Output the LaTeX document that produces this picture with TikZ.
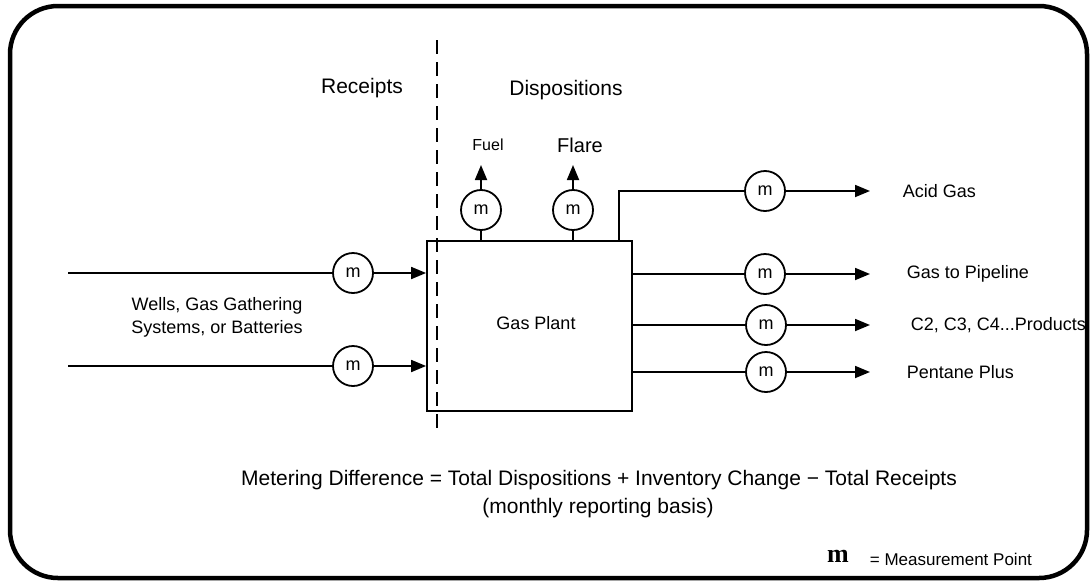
\documentclass[tikz,border=0pt]{standalone}
\usepackage{fontspec}
\setmainfont{Liberation Sans}
\newfontfamily\legendserif{Liberation Serif}
\usetikzlibrary{arrows.meta,calc}
\begin{document}
\begin{tikzpicture}[x=1pt,y=-1pt,
  line width=1.8pt,
  meter/.style={circle,draw,minimum size=40pt,inner sep=0pt,font=\fontsize{18}{20}\selectfont},
  arr/.style={-{Triangle[length=15pt,width=12pt]}},
  lbl/.style={inner sep=0pt,font=\fontsize{18}{20}\selectfont},
  big/.style={inner sep=0pt,font=\fontsize{21}{24}\selectfont},
  plantbox/.style={draw,minimum width=205pt,minimum height=170pt,inner sep=0pt}]
\useasboundingbox (0,0) rectangle (1091,581);
% outer frame
\draw[line width=4.5pt,rounded corners=48pt] (10,6) rectangle (1087,578);
% headings
\node[big] (rec) at (362,88) {Receipts};
\node[big] (disp) at (566,90) {Dispositions};
% dashed divider
\coordinate (dtop) at (437,40);
\coordinate (dbot) at (437,432);
\draw[line width=2.5pt,dash pattern=on 14pt off 8pt] (dtop) -- (dbot);
% plant
\node[plantbox] (plant) at (529.5,326) {};
\node[lbl] (plantlbl) at (536,323) {Gas Plant};
% receipts
\coordinate (in1) at (68,273);
\coordinate (in2) at (68,366);
\node[meter] (mr1) at (353,273) {m};
\node[meter] (mr2) at (353,366) {m};
\draw (in1) -- (mr1);
\draw (in2) -- (mr2);
\draw[arr] (mr1) -- (mr1 -| plant.west);
\draw[arr] (mr2) -- (mr2 -| plant.west);
\node[lbl,align=center] (wells) at (217,317) {Wells, Gas Gathering\\[3pt]Systems, or Batteries};
% fuel and flare
\node[meter] (mfuel) at (481,210) {m};
\node[meter] (mflare) at (573,210) {m};
\draw (mfuel |- plant.north) -- (mfuel);
\draw (mflare |- plant.north) -- (mflare);
\coordinate (fueltip) at (481,165);
\coordinate (flaretip) at (573,165);
\draw[arr] (mfuel) -- (fueltip);
\draw[arr] (mflare) -- (flaretip);
\node[inner sep=0pt,font=\fontsize{16}{18}\selectfont] (fuel) at (488,145) {Fuel};
\node[inner sep=0pt,font=\fontsize{20}{22}\selectfont] (flare) at (580,145) {Flare};
% dispositions right
\coordinate (acidbase) at (619,241);
\coordinate (acidcorner) at (619,191);
\node[meter] (macid) at (765,191) {m};
\node[meter] (mpipe) at (765,274) {m};
\node[meter] (mc2) at (766,325) {m};
\node[meter] (mpent) at (766,372) {m};
\draw (acidbase) -- (acidcorner) -- (macid);
\draw (mpipe -| plant.east) -- (mpipe);
\draw (mc2 -| plant.east) -- (mc2);
\draw (mpent -| plant.east) -- (mpent);
\coordinate (tacid) at (870,191);
\coordinate (tpipe) at (870,274);
\coordinate (tc2) at (870,325);
\coordinate (tpent) at (870,372);
\draw[arr] (macid) -- (tacid);
\draw[arr] (mpipe) -- (tpipe);
\draw[arr] (mc2) -- (tc2);
\draw[arr] (mpent) -- (tpent);
\node[lbl,anchor=west] (lacid) at (902,191) {Acid Gas};
\node[lbl,anchor=west] (lpipe) at (906,274) {Gas to Pipeline};
\node[lbl,anchor=west] (lc2) at (910,325) {C2, C3, C4...Products};
\node[lbl,anchor=west] (lpent) at (906,372) {Pentane Plus};
% equation
\node[big] (eq) at (599,480) {Metering Difference = Total Dispositions + Inventory Change − Total Receipts};
\node[big] (basis) at (598,508) {(monthly reporting basis)};
% legend
\node[inner sep=0pt,font=\legendserif\bfseries\fontsize{26}{28}\selectfont] (legm) at (838,556) {m};
\node[inner sep=0pt,anchor=west,font=\fontsize{17}{19}\selectfont] (legt) at (869,559) {= Measurement Point};
\end{tikzpicture}
\end{document}
